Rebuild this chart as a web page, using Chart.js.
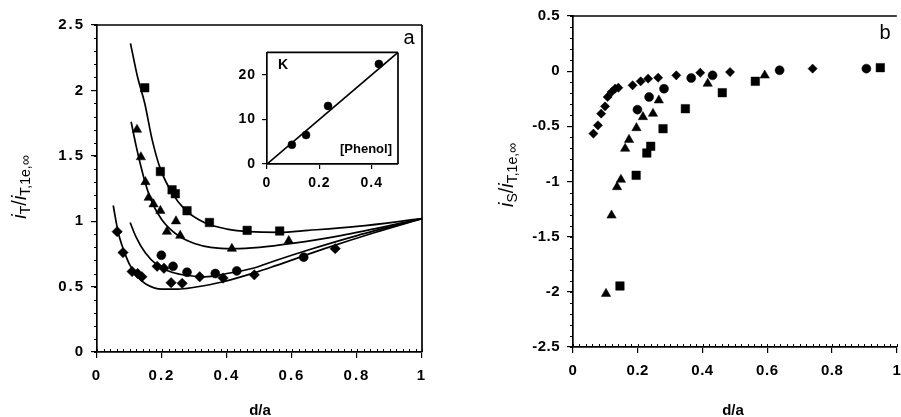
<!DOCTYPE html>
<html>
<head>
<meta charset="utf-8">
<title>Feedback approach curves</title>
<script src="https://cdn.jsdelivr.net/npm/chart.js"></script>
<style>
  body { margin:0; width:901px; height:417px; overflow:hidden; background:#fff; position:relative; }
  canvas { position:absolute; }
</style>
</head>
<body>
<canvas id="chartA" width="450" height="417" style="left:0px;top:0px"></canvas>
<canvas id="chartInset" width="180" height="160" style="left:230px;top:38px"></canvas>
<canvas id="chartB" width="460" height="417" style="left:450px;top:0px"></canvas>
<script>
// ---- panel a : normalised tip current vs d/a ----
const aXTicks = [0, 0.2, 0.4, 0.6, 0.8, 1];
const aYTicks = [0, 0.5, 1, 1.5, 2, 2.5];

const aSquares   = [[0.147,2.02],[0.195,1.38],[0.231,1.24],[0.241,1.21],[0.277,1.08],[0.346,0.99],[0.462,0.93],[0.562,0.925]];
const aTriangles = [[0.123,1.70],[0.135,1.49],[0.149,1.30],[0.159,1.18],[0.174,1.13],[0.195,1.08],[0.215,0.92],[0.243,1.00],[0.256,0.89],[0.415,0.79],[0.59,0.85]];
const aCircles   = [[0.198,0.74],[0.234,0.655],[0.277,0.61],[0.364,0.60],[0.43,0.62],[0.636,0.725]];
const aDiamonds  = [[0.062,0.92],[0.08,0.76],[0.108,0.615],[0.125,0.60],[0.138,0.575],[0.185,0.655],[0.206,0.64],[0.228,0.53],[0.262,0.525],[0.316,0.575],[0.388,0.565],[0.484,0.59],[0.733,0.79]];

// fitted curves
const aSquareFit   = [[0.103,2.36],[0.125,2.1],[0.147,1.9],[0.17,1.62],[0.195,1.40],[0.23,1.22],[0.27,1.09],[0.33,0.99],[0.40,0.94],[0.47,0.92],[0.56,0.915],[0.65,0.93],[0.80,0.96],[1.0,1.02]];
const aTriangleFit = [[0.105,1.76],[0.12,1.58],[0.135,1.42],[0.15,1.28],[0.17,1.14],[0.20,1.01],[0.25,0.89],[0.30,0.83],[0.35,0.80],[0.42,0.79],[0.50,0.80],[0.60,0.83],[0.75,0.89],[1.0,1.02]];
const aCircleFit   = [[0.102,0.99],[0.12,0.88],[0.148,0.76],[0.187,0.66],[0.23,0.61],[0.28,0.585],[0.33,0.575],[0.40,0.60],[0.48,0.64],[0.55,0.70],[0.65,0.78],[0.80,0.89],[1.0,1.02]];
const aDiamondFit  = [[0.05,1.12],[0.06,0.98],[0.07,0.87],[0.085,0.76],[0.1,0.67],[0.125,0.575],[0.15,0.52],[0.2,0.48],[0.25,0.48],[0.3,0.495],[0.385,0.535],[0.49,0.61],[0.55,0.66],[0.7,0.79],[0.85,0.91],[1.0,1.02]];

// ---- inset : K vs [Phenol] ----
const inXTicks = [0, 0.2, 0.4];
const inYTicks = [0, 10, 20];
const inPoints = [[0.095,4.3],[0.149,6.5],[0.233,13.0],[0.427,22.4]];
const inFit    = [[0,0],[0.5,25]];

// ---- panel b : substrate current vs d/a ----
const bXTicks = [0, 0.2, 0.4, 0.6, 0.8, 1];
const bYTicks = [-2.5, -2, -1.5, -1, -0.5, 0, 0.5];
const bDiamonds  = [[0.063,-0.566],[0.077,-0.491],[0.087,-0.385],[0.099,-0.319],[0.107,-0.234],[0.119,-0.189],[0.13,-0.159],[0.14,-0.15],[0.184,-0.128],[0.209,-0.092],[0.232,-0.068],[0.263,-0.059],[0.319,-0.038],[0.393,-0.014],[0.485,-0.008],[0.74,0.023]];
const bCircles   = [[0.199,-0.349],[0.235,-0.234],[0.281,-0.159],[0.365,-0.062],[0.431,-0.038],[0.638,0.008],[0.906,0.023]];
const bTriangles = [[0.102,-2.017],[0.119,-1.307],[0.136,-1.05],[0.148,-0.983],[0.161,-0.702],[0.173,-0.621],[0.196,-0.515],[0.216,-0.415],[0.247,-0.385],[0.265,-0.264],[0.416,-0.113],[0.592,-0.038]];
const bSquares   = [[0.145,-1.947],[0.195,-0.944],[0.228,-0.742],[0.24,-0.681],[0.278,-0.521],[0.347,-0.34],[0.461,-0.195],[0.563,-0.092],[0.949,0.032]];

const FAMILY = '"Liberation Sans", Arial, sans-serif';
const tickFont = { family: FAMILY, size: 15, weight: 'bold' };
const insetFont = { family: FAMILY, size: 14, weight: 'bold' };

function pts(arr) { return arr.map(p => ({ x: p[0], y: p[1] })); }

function markers(arr, style, r) {
  return { data: pts(arr), pointStyle: style, pointRadius: r, backgroundColor: '#000', borderColor: '#000', borderWidth: 0.5, showLine: false };
}
function fit(arr) {
  return { data: pts(arr), showLine: true, pointRadius: 0, borderColor: '#000', borderWidth: 1.7, cubicInterpolationMode: 'monotone', fill: false };
}

function axis(min, max, tickVals, size, horizontal, pad, tl, font) {
  return {
    type: 'linear', min: min, max: max,
    afterBuildTicks: s => { s.ticks = tickVals.map(v => ({ value: v })); },
    afterFit: s => { if (horizontal) s.height = size; else s.width = size; },
    grid: { display: true, drawOnChartArea: false, drawTicks: true, tickLength: tl, color: '#000', lineWidth: 1.2 },
    border: { display: true, color: '#000', width: 1.7 },
    ticks: { color: '#000', font: font || tickFont, padding: pad, autoSkip: false, maxRotation: 0, callback: v => String(+v.toFixed(2)) }
  };
}

// draws rotated / mixed-size text
function drawRich(ctx, parts, x, y, rot) {
  ctx.save();
  ctx.translate(x, y);
  ctx.rotate(rot || 0);
  ctx.fillStyle = '#000';
  ctx.textBaseline = 'alphabetic';
  let w = 0;
  parts.forEach(p => { ctx.font = p.font; w += ctx.measureText(p.t).width; });
  let cx = -w / 2;
  parts.forEach(p => {
    ctx.font = p.font;
    ctx.fillText(p.t, cx, p.dy || 0);
    cx += ctx.measureText(p.t).width;
  });
  ctx.restore();
}

const decor = {
  id: 'decor',
  beforeDraw(chart, args, o) { chart.ctx.letterSpacing = o.spacing || '0px'; },
  beforeDatasetsDraw(chart) { chart.ctx.letterSpacing = '0px'; },
  afterDraw(chart, args, o) {
    const ctx = chart.ctx, a = chart.chartArea, sx = chart.scales.x, sy = chart.scales.y;
    ctx.save();
    ctx.strokeStyle = '#000';
    // frame
    ctx.lineWidth = 1.7;
    ctx.beginPath();
    ctx.moveTo(a.left, a.top); ctx.lineTo(a.right, a.top);
    if (o.rightBorder) { ctx.moveTo(a.right, a.top); ctx.lineTo(a.right, a.bottom); }
    ctx.stroke();
    // minor ticks
    ctx.lineWidth = 1;
    ctx.beginPath();
    if (o.minorX) {
      for (let v = sx.min; v <= sx.max + 1e-9; v += o.minorX) {
        const px = Math.round(sx.getPixelForValue(v)) + 0.5;
        ctx.moveTo(px, a.bottom); ctx.lineTo(px, a.bottom - 3);
      }
    }
    if (o.minorY) {
      for (let v = sy.min; v <= sy.max + 1e-9; v += o.minorY) {
        const py = Math.round(sy.getPixelForValue(v)) + 0.5;
        ctx.moveTo(a.left, py); ctx.lineTo(a.left - 3, py);
      }
    }
    ctx.stroke();
    ctx.restore();
    (o.texts || []).forEach(t => drawRich(ctx, t.parts, t.x, t.y, t.rot));
  }
};

const main = s => s + 'px ' + FAMILY;
const ital = s => 'italic ' + s + 'px ' + FAMILY;
const bold = s => 'bold ' + s + 'px ' + FAMILY;

function common(pad, decorOpts) {
  return {
    responsive: false, animation: false,
    layout: { padding: pad },
    plugins: { legend: { display: false }, tooltip: { enabled: false }, decor: decorOpts }
  };
}

// panel a
const optA = common({ left: 0, top: 25, right: 28, bottom: 0 }, {
  spacing: '2px', minorX: 0.02, minorY: 0.1, rightBorder: true,
  texts: [
    { x: 26, y: 187, rot: -Math.PI / 2, parts: [
      { t: 'i', font: ital(20) }, { t: 'T', font: main(14), dy: 4 },
      { t: '/', font: main(20) }, { t: 'i', font: ital(20) }, { t: 'T,1e,\u221E', font: main(14), dy: 4 } ] },
    { x: 260, y: 415, parts: [{ t: 'd/a', font: bold(15) }] },
    { x: 409, y: 44, parts: [{ t: 'a', font: main(20) }] }
  ]
});
optA.scales = { x: axis(0, 1, aXTicks, 65, true, 9, 6), y: axis(0, 2.5, aYTicks, 97, false, 6, 6) };

new Chart(document.getElementById('chartA'), {
  type: 'scatter',
  data: { datasets: [
    fit(aSquareFit), fit(aTriangleFit), fit(aCircleFit), fit(aDiamondFit),
    markers(aSquares, 'rect', 6), markers(aTriangles, 'triangle', 5.4),
    markers(aCircles, 'circle', 4.5), markers(aDiamonds, 'rectRot', 5.2)
  ] },
  options: optA,
  plugins: [decor]
});

// inset
const optIn = common({ left: 0, top: 9, right: 12, bottom: 0 }, {
  spacing: '1px', rightBorder: true,
  texts: [
    { x: 53, y: 31, parts: [{ t: 'K', font: bold(14) }] },
    { x: 136, y: 115, parts: [{ t: '[Phenol]', font: bold(13) }] }
  ]
});
optIn.scales = { x: axis(0, 0.5, inXTicks, 34, true, 6, 5, insetFont), y: axis(0, 25, inYTicks, 37, false, 6, 5, insetFont) };

new Chart(document.getElementById('chartInset'), {
  type: 'scatter',
  data: { datasets: [
    { data: pts(inFit), showLine: true, pointRadius: 0, borderColor: '#000', borderWidth: 1.7 },
    markers(inPoints, 'circle', 4)
  ] },
  options: optIn,
  plugins: [decor]
});

// panel b
const optB = common({ left: 0, top: 16, right: 11, bottom: 0 }, {
  spacing: '0.5px', minorX: 0.02, minorY: 0.1, rightBorder: false,
  texts: [
    { x: 63, y: 175, rot: -Math.PI / 2, parts: [
      { t: 'i', font: ital(20) }, { t: 'S', font: main(14), dy: 4 },
      { t: '/', font: main(20) }, { t: 'i', font: ital(20) }, { t: 'T,1e,\u221E', font: main(14), dy: 4 } ] },
    { x: 283, y: 415, parts: [{ t: 'd/a', font: bold(15) }] },
    { x: 435, y: 39, parts: [{ t: 'b', font: main(20) }] }
  ]
});
optB.scales = { x: axis(0, 1, bXTicks, 70, true, 9, 6), y: axis(-2.5, 0.5, bYTicks, 123, false, 7, 6) };

new Chart(document.getElementById('chartB'), {
  type: 'scatter',
  data: { datasets: [
    markers(bSquares, 'rect', 6), markers(bTriangles, 'triangle', 5.4),
    markers(bCircles, 'circle', 4.5), markers(bDiamonds, 'rectRot', 4.6)
  ] },
  options: optB,
  plugins: [decor]
});
</script>
</body>
</html>
